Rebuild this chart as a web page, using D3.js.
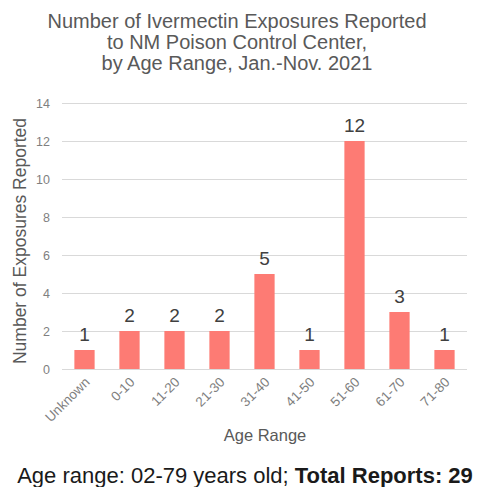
<!DOCTYPE html>
<html><head><meta charset="utf-8">
<script src="https://cdn.jsdelivr.net/npm/d3@7"></script>
<style>body{margin:0;background:#fff}svg{display:block}</style>
</head><body>
<script>
const categories = ["Unknown","0-10","11-20","21-30","31-40","41-50","51-60","61-70","71-80"];
const values = [1,2,2,2,5,1,12,3,1];
const yTicks = [0,2,4,6,8,10,12,14];
const titleLines = ["Number of Ivermectin Exposures Reported","to NM Poison Control Center,","by Age Range, Jan.-Nov. 2021"];

const W = 479, H = 487;
const svg = d3.select("body").append("svg").attr("width", W).attr("height", H);
const font = "'Liberation Sans', Arial, sans-serif";

const x = d3.scaleBand().domain(categories).range([62, 467]).paddingInner(0.55).paddingOuter(0.275);
const y = d3.scaleLinear().domain([0, 14]).range([369, 103]);

// title
svg.append("g").selectAll("text").data(titleLines).join("text")
  .attr("x", 237).attr("y", (d,i) => 28 + i*21)
  .attr("text-anchor", "middle").attr("font-family", font).attr("font-size", 20)
  .attr("fill", "#595959").text(d => d);

// gridlines
const yAxis = d3.axisLeft(y).tickValues(yTicks).tickSize(-(467-62)).tickPadding(12);
const gy = svg.append("g").attr("transform", "translate(62,0)").call(yAxis);
gy.select(".domain").remove();
gy.selectAll(".tick line").attr("stroke", "#d9d9d9").attr("stroke-width", 1);
gy.selectAll(".tick text").attr("font-family", font).attr("font-size", 12.5).attr("fill", "#7f7f7f");

// bars
svg.append("g").selectAll("rect").data(values).join("rect")
  .attr("x", (d,i) => x(categories[i])).attr("width", x.bandwidth())
  .attr("y", d => y(d)).attr("height", d => y(0) - y(d))
  .attr("fill", "#fd7b74");

// data labels
svg.append("g").selectAll("text").data(values).join("text")
  .attr("x", (d,i) => x(categories[i]) + x.bandwidth()/2)
  .attr("y", d => y(d) - 9)
  .attr("text-anchor", "middle").attr("font-family", font).attr("font-size", 19)
  .attr("fill", "#404040").text(d => d);

// x axis labels
const xAxis = d3.axisBottom(x).tickSize(0).tickPadding(0);
const gx = svg.append("g").attr("transform", "translate(0,369)").call(xAxis);
gx.select(".domain").remove();
gx.selectAll(".tick text")
  .attr("font-family", font).attr("font-size", 13.5).attr("fill", "#7f7f7f")
  .attr("text-anchor", "end").attr("dy", null).attr("y", 0)
  .attr("transform", "translate(6,14) rotate(-45)");

// axis titles
svg.append("text").attr("x", 265).attr("y", 441).attr("text-anchor", "middle")
  .attr("font-family", font).attr("font-size", 16.5).attr("fill", "#595959").text("Age Range");
svg.append("text").attr("transform", "translate(26,241) rotate(-90)").attr("text-anchor", "middle")
  .attr("font-family", font).attr("font-size", 17.5).attr("fill", "#595959").text("Number of Exposures Reported");

// footer
const ft = svg.append("text").attr("x", 245).attr("y", 483).attr("text-anchor", "middle")
  .attr("font-family", font).attr("font-size", 22).attr("fill", "#1a1a1a");
ft.append("tspan").text("Age range: 02-79 years old; ");
ft.append("tspan").attr("font-weight", "bold").text("Total Reports: 29");
</script>
</body></html>
